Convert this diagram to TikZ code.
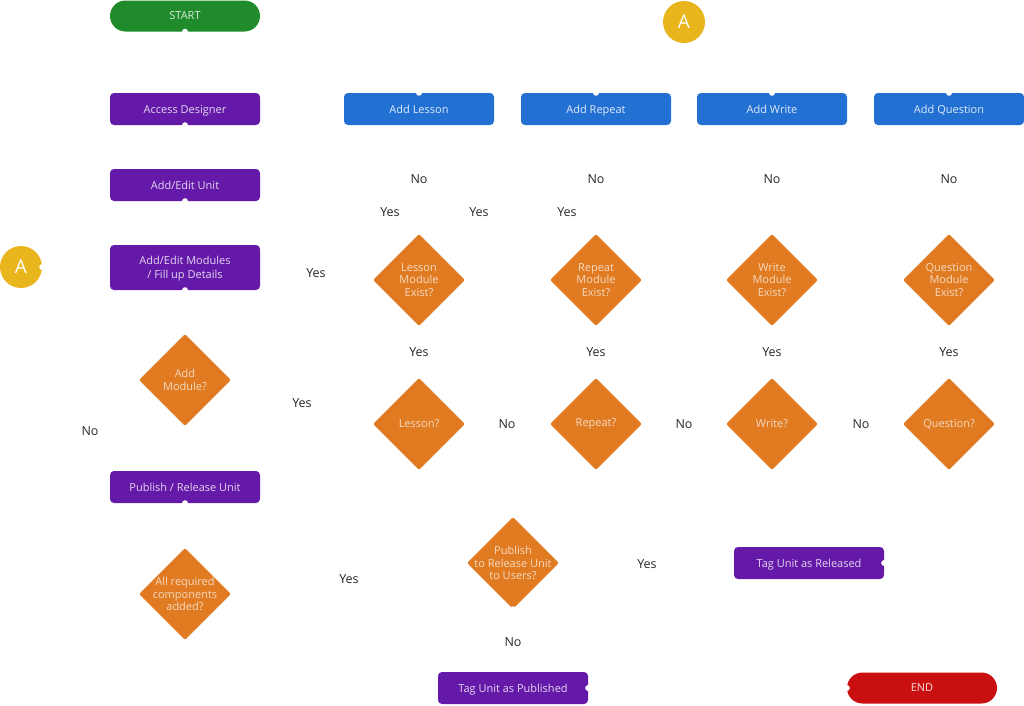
\documentclass[tikz,border=0pt]{standalone}
\usepackage{fontspec}
\setmainfont{Open Sans}
\usetikzlibrary{shapes.geometric,positioning}

\definecolor{startgreen}{HTML}{1F8B2A}
\definecolor{steppurple}{HTML}{6519A9}
\definecolor{addblue}{HTML}{2370D3}
\definecolor{askorange}{HTML}{E07B22}
\definecolor{refyellow}{HTML}{E8B51D}
\definecolor{endred}{HTML}{C90F0F}

\begin{document}
\begin{tikzpicture}[x=1pt, y=-1pt,
    box/.style={rectangle, rounded corners=4pt, minimum width=150pt, minimum height=32pt,
        inner sep=0pt, align=center, text depth=0pt, font=\fontsize{11}{13.5}\selectfont},
    stepbox/.style={box, fill=steppurple, text=white!82!steppurple},
    addbox/.style={box, fill=addblue, text=white!85!addblue},
    pill/.style={box, rounded corners=15.5pt, minimum height=31pt},
    ask/.style={diamond, aspect=1, minimum width=92pt, minimum height=92pt, inner sep=-15pt,
        fill=askorange, text=white!72!askorange, align=center, rounded corners=2pt,
        font=\fontsize{11}{12.8}\selectfont},
    ref/.style={circle, fill=refyellow, text=white, minimum size=42pt, inner sep=0pt,
        font=\fontsize{19}{19}\selectfont},
    lbl/.style={font=\fontsize{12.5}{14}\selectfont, text=black!85},
    notch/.style={circle, fill=white, minimum size=6pt, inner sep=0pt}]

    \useasboundingbox (0, 0) rectangle (1024, 705);

    % left column
    \node[pill, fill=startgreen, text=white!85!startgreen] (start) at (185, 16) {START};
    \node[stepbox] (designer) at (185, 109) {Access Designer};
    \node[stepbox] (unit) at (185, 185) {Add/Edit Unit};
    \node[stepbox, minimum height=45pt] (modules) at (185, 267.5) {Add/Edit Modules\\/ Fill up Details};
    \node[ask] (addmodule) at (185, 380) {Add\\Module?};
    \node[stepbox] (publish) at (185, 487) {Publish / Release Unit};
    \node[ask] (alladded) at (185, 594) {All required\\components\\added?};
    \node[ref] (refleft) at (21, 267) {A};
    \node[ref] (reftop) at (684, 22) {A};

    % module types
    \node[addbox] (addlesson) at (419, 109) {Add Lesson};
    \node[addbox] (addrepeat) at (596, 109) {Add Repeat};
    \node[addbox] (addwrite) at (772, 109) {Add Write};
    \node[addbox] (addquestion) at (949, 109) {Add Question};

    \node[ask] (lessonexist) at (419, 280) {Lesson\\Module\\Exist?};
    \node[ask] (repeatexist) at (596, 280) {Repeat\\Module\\Exist?};
    \node[ask] (writeexist) at (772, 280) {Write\\Module\\Exist?};
    \node[ask] (questionexist) at (949, 280) {Question\\Module\\Exist?};

    \node[ask] (lesson) at (419, 424) {Lesson?};
    \node[ask] (repeat) at (596, 424) {Repeat?};
    \node[ask] (write) at (772, 424) {Write?};
    \node[ask] (question) at (949, 424) {Question?};

    % release
    \node[ask] (release) at (513, 563) {Publish\\to Release Unit\\to Users?};
    \node[stepbox] (released) at (809, 563) {Tag Unit as Released};
    \node[stepbox] (published) at (513, 688) {Tag Unit as Published};
    \node[pill, fill=endred, text=white!85!endred] (end) at (922, 688) {END};

    % connection points
    \foreach \n/\a in {start/south, designer/south, unit/south, modules/south, publish/south,
        refleft/east, addlesson/north, addrepeat/north, addwrite/north, addquestion/north,
        release/south, released/east, published/east, end/west}
        \node[notch] at (\n.\a) {};

    % answers
    \node[lbl] (nolesson) at (419, 179) {No};
    \node[lbl] (norepeat) at (596, 179) {No};
    \node[lbl] (nowrite) at (772, 179) {No};
    \node[lbl] (noquestion) at (949, 179) {No};
    \node[lbl] (yesa) at (390, 212) {Yes};
    \node[lbl] (yesb) at (479, 212) {Yes};
    \node[lbl] (yesc) at (567, 212) {Yes};
    \node[lbl] (yesmodules) at (316, 273) {Yes};
    \node[lbl] (yeslesson) at (419, 352) {Yes};
    \node[lbl] (yesrepeat) at (596, 352) {Yes};
    \node[lbl] (yeswrite) at (772, 352) {Yes};
    \node[lbl] (yesquestion) at (949, 352) {Yes};
    \node[lbl] (yesaddmodule) at (302, 403) {Yes};
    \node[lbl] (noaddmodule) at (90, 431) {No};
    \node[lbl] (nolessonq) at (507, 424) {No};
    \node[lbl] (norepeatq) at (684, 424) {No};
    \node[lbl] (nowriteq) at (861, 424) {No};
    \node[lbl] (yesalladded) at (349, 579) {Yes};
    \node[lbl] (yesrelease) at (647, 564) {Yes};
    \node[lbl] (norelease) at (513, 642) {No};
\end{tikzpicture}
\end{document}
